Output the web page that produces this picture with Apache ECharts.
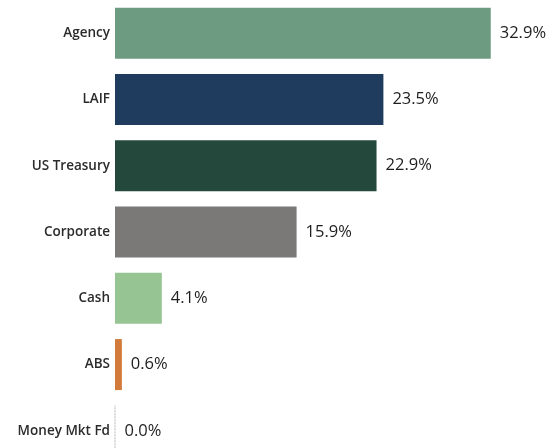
<!DOCTYPE html>
<html>
<head>
<meta charset="utf-8">
<script src="https://cdn.jsdelivr.net/npm/echarts@6/dist/echarts.min.js"></script>
<style>
  html, body { margin: 0; padding: 0; background: #fff; }
  #chart { width: 552px; height: 448px; }
</style>
</head>
<body>
<div id="chart"></div>
<script>
// 各类资产占比
var categories = ['Agency', 'LAIF', 'US Treasury', 'Corporate', 'Cash', 'ABS', 'Money Mkt Fd'];
var values = [32.9, 23.5, 22.9, 15.9, 4.1, 0.6, 0.0];
var colors = ['#6c9b81', '#1f3b5e', '#24483b', '#7b7977', '#97c493', '#d27a3a', '#ffffff'];

var chart = echarts.init(document.getElementById('chart'));

var data = values.map(function (v, i) {
  var item = { value: v, itemStyle: { color: colors[i] } };
  if (v === 0) {
    // 0% 用虚线表示
    item.itemStyle.borderColor = '#b0b0b0';
    item.itemStyle.borderWidth = 1;
    item.itemStyle.borderType = [1, 2];
  }
  return item;
});

var option = {
  animation: false,
  grid: {
    left: 115,
    top: 0,
    width: 434,
    height: 464,
    outerBoundsMode: 'none'
  },
  xAxis: {
    type: 'value',
    min: 0,
    max: 38,
    show: false
  },
  yAxis: {
    type: 'category',
    inverse: true,
    data: categories,
    axisLine: { show: false },
    axisTick: { show: false },
    axisLabel: {
      margin: 5,
      fontSize: 13.5,
      fontWeight: 600,
      color: '#2b2b2b',
      fontFamily: 'Open Sans'
    }
  },
  series: [
    {
      type: 'bar',
      data: data,
      barWidth: 51,
      label: {
        show: true,
        position: 'right',
        distance: 9,
        fontSize: 16.5,
        color: '#1e1e1e',
        fontFamily: 'Open Sans',
        formatter: function (p) {
          return p.value.toFixed(1) + '%';
        }
      }
    }
  ]
};

chart.setOption(option);
</script>
</body>
</html>
